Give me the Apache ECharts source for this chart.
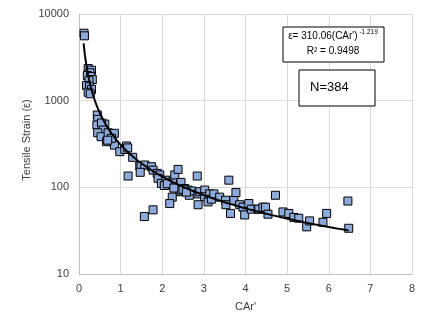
<!DOCTYPE html>
<html>
<head>
<meta charset="utf-8">
<script src="https://cdn.jsdelivr.net/npm/echarts@6/dist/echarts.min.js"></script>
<style>html,body{margin:0;padding:0;background:#fff}#c{width:432px;height:334px}</style>
</head>
<body>
<div id="c"></div>
<script>
// Measured points: CAr' (x) and tensile strain (y)
const carValues = [0.12,0.13,
  0.22,0.30,0.26,0.20,0.28,0.32,0.24,0.18,0.25,0.30,0.22,0.27,
  0.44,0.45,0.43,0.62,0.54,0.58,0.45,0.53,0.70,0.66,0.85,0.85,0.78,0.69,0.98,1.14,1.10,1.17,1.29,
  1.18,1.46,1.49,1.58,1.47,1.57,1.78,1.74,1.78,1.88,1.94,1.90,1.98,2.09,2.18,2.25,2.30,2.38,2.34,
  2.42,2.46,2.45,2.24,2.18,2.54,2.62,2.65,2.70,2.84,2.86,2.86,2.90,3.02,3.02,3.10,3.14,3.18,3.24,
  3.38,3.52,3.53,3.60,3.64,3.72,3.77,3.86,3.94,3.98,4.08,4.14,4.30,4.32,4.42,4.48,4.54,4.72,4.90,
  5.04,5.16,5.28,5.47,5.54,5.86,5.95,6.46,6.48,2.05,2.12,2.28,2.50,2.58];
const strainValues = [6000,5600,
  2350,2250,2100,1950,1900,1750,1700,1500,1450,1350,1250,1200,
  683,608,524,537,552,458,426,384,426,336,420,307,368,350,258,300,274,285,222,
  135,177,176,181,149,46,55,173,158,145,139,127,111,121,106,116,139,161,102,
  89,93,114,77,65,97,93,81,91,135,63,84,89,93,78,68,84,73,84,
  77,71,63,121,50,71,87,63,59,48,65,56,56,56,59,59,49,81,52,
  50,45,44,35,41,39.5,50,69.5,33.7,105,110,98,95,88];
// Power trendline from the chart's equation
const fitCoef = 310.06;
const fitExp = -1.219;
const fitRange = [0.11, 6.48];
const xTicks = [0,1,2,3,4,5,6,7,8];
const yTicks = [10,100,1000,10000];
const yTitle = 'Tensile Strain (ε)';

const scatterData = carValues.map((x,i)=>[x, strainValues[i]]);
const fitData = [];
for (let k=0;k<=200;k++){
  const x = fitRange[0] + (fitRange[1]-fitRange[0])*k/200;
  fitData.push([x, fitCoef*Math.pow(x, fitExp)]);
}
const font = 'Liberation Sans, Arial, sans-serif';
const chart = echarts.init(document.getElementById('c'), null, {renderer:'canvas'});
chart.setOption({
  animation:false,
  backgroundColor:'#fff',
  grid:{left:79, right:20, top:14, bottom:60, containLabel:false},
  xAxis:{type:'value', min:xTicks[0], max:xTicks[xTicks.length-1], interval:1,
    name:"CAr'", nameLocation:'middle', nameGap:27,
    nameTextStyle:{color:'#404040', fontSize:11, fontFamily:font},
    axisLine:{show:true, onZero:false, lineStyle:{color:'#bfbfbf'}},
    axisTick:{show:false},
    axisLabel:{color:'#404040', fontSize:11, fontFamily:font, margin:9},
    splitLine:{show:true, lineStyle:{color:'#d9d9d9'}}},
  yAxis:{type:'log', logBase:10, min:yTicks[0], max:yTicks[yTicks.length-1],
    axisLine:{show:true, lineStyle:{color:'#bfbfbf'}},
    axisTick:{show:false},
    axisLabel:{color:'#404040', fontSize:11, fontFamily:font, margin:10,
      formatter:function(v){return String(Math.round(v));}},
    splitLine:{show:true, lineStyle:{color:'#d9d9d9'}}},
  series:[
    {type:'scatter', data:scatterData, symbol:'rect', symbolSize:8,
     itemStyle:{color:'#8eaadb', borderColor:'#000', borderWidth:1, opacity:1}, z:2},
    {type:'line', data:fitData, showSymbol:false, symbol:'none',
     lineStyle:{color:'#000', width:2}, z:3}
  ],
  graphic:[
    {type:'text', x:27, y:140, rotation:Math.PI/2, z:11,
     style:{text:yTitle, fontSize:11, fontFamily:font, fill:'#404040', align:'center', verticalAlign:'middle'}},
    {type:'rect', shape:{x:283, y:27, width:101, height:35}, style:{fill:'#fff', stroke:'#000', lineWidth:1}, z:10},
    {type:'text', x:333, y:29, z:11, style:{text:"{a|ε= 310.06(CAr')}{s| -1.219}\n{a|R² = 0.9498}", align:'center',
      fontFamily:font, fill:'#000',
      rich:{a:{fontSize:10, lineHeight:15, fontFamily:font, fill:'#000'}, s:{fontSize:6.5, lineHeight:15, verticalAlign:'top', fontFamily:font, fill:'#000'}}}},
    {type:'rect', shape:{x:299, y:70, width:76, height:36}, style:{fill:'#fff', stroke:'#000', lineWidth:1}, z:10},
    {type:'text', x:310, y:81, z:11, style:{text:'N=384', fontSize:13, fontFamily:font, fill:'#000'}}
  ]
});
</script>
</body>
</html>
